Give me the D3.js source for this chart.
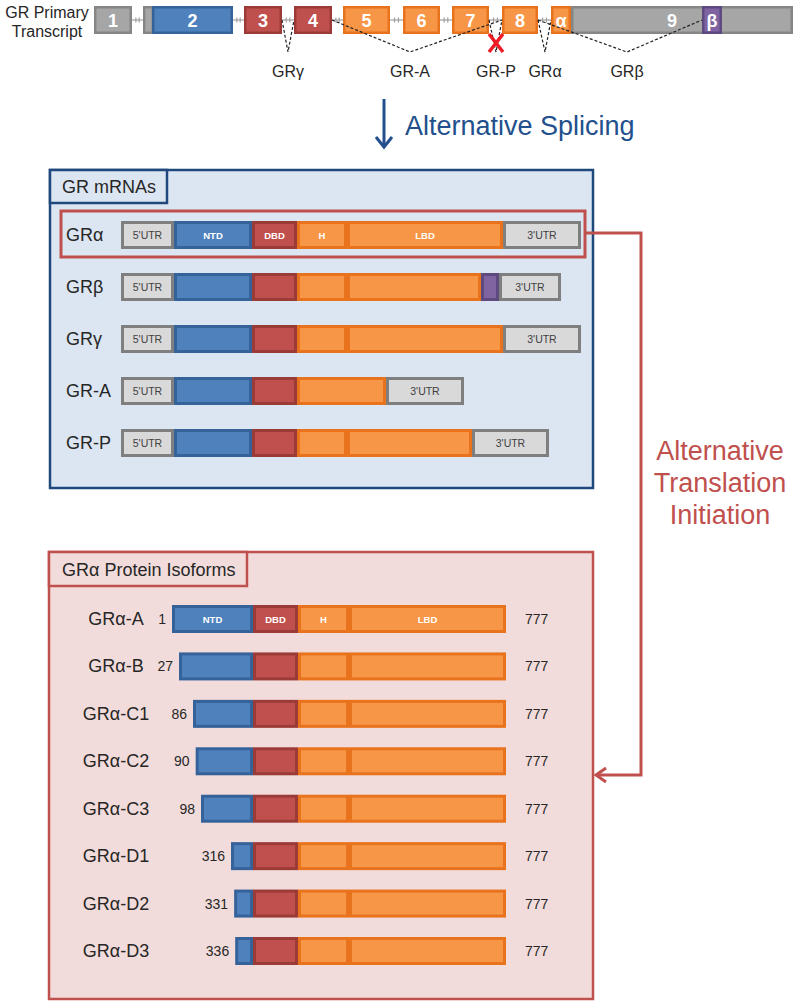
<!DOCTYPE html>
<html>
<head>
<meta charset="utf-8">
<script src="https://cdn.jsdelivr.net/npm/d3@7"></script>
<style>
  body { margin: 0; background: #fff; }
  text { font-family: "Liberation Sans", Arial, sans-serif; }
</style>
</head>
<body>
<div id="chart"></div>
<script>
// ---- data ----
// primary transcript, schematic units
const exonLabels = ['1', '', '2', '3', '4', '5', '6', '7', '8', 'α', '9', 'β'];
const exonStarts = [0, 49, 58, 150, 200, 249, 309, 358, 408, 457, 477, 608];
const exonEnds   = [38, 60, 139, 188, 238, 296, 346, 395, 444, 477, 699, 628];
const exonKinds  = ['utr', 'utr', 'ntd', 'dbd', 'dbd', 'lbd', 'lbd', 'lbd', 'lbd', 'lbd', 'utr', 'beta'];
const intronGaps = [[38, 49], [139, 150], [188, 200], [238, 249], [296, 309], [346, 358], [395, 408], [444, 457]];

// splice events
const spliceNames = ['GRγ', 'GR-A', 'GR-P', 'GRα', 'GRβ'];
const spliceFrom  = [188, 238, 395, 444, 444];
const spliceTo    = [200, 408, 408, 457, 608];
const spliceApex  = [194, 316, 402, 451, 533];

// mRNAs: segment kinds and lengths (schematic units)
const mrnaNames = ['GRα', 'GRβ', 'GRγ', 'GR-A', 'GR-P'];
const mrnaKinds = [
  ['5UTR', 'ntd', 'dbd', 'lbd', 'lbd', '3UTR'],
  ['5UTR', 'ntd', 'dbd', 'lbd', 'lbd', 'beta', '3UTR'],
  ['5UTR', 'ntd', 'dbd', 'lbd', 'lbd', '3UTR'],
  ['5UTR', 'ntd', 'dbd', 'lbd', '3UTR'],
  ['5UTR', 'ntd', 'dbd', 'lbd', 'lbd', '3UTR']
];
const mrnaLengths = [
  [53, 78, 45, 50, 156, 78],
  [53, 78, 45, 50, 134, 18, 62],
  [53, 78, 45, 50, 156, 78],
  [53, 78, 45, 89, 78],
  [53, 78, 45, 50, 125, 77]
];
const mrnaDomainText = ['', 'NTD', 'DBD', 'H', 'LBD', ''];

// protein isoforms (amino acid positions)
const isoformNames  = ['GRα-A', 'GRα-B', 'GRα-C1', 'GRα-C2', 'GRα-C3', 'GRα-D1', 'GRα-D2', 'GRα-D3'];
const isoformStarts = [1, 27, 86, 90, 98, 316, 331, 336];
const isoformEnd = 777;
const domainNames  = ['NTD', 'DBD', 'H', 'LBD'];
const domainStarts = [1, 421, 489, 527];
const domainKinds  = ['ntd', 'dbd', 'lbd', 'lbd'];

// ---- setup ----
const width = 800, height = 1007;
const svg = d3.select('#chart').append('svg')
  .attr('width', width).attr('height', height);

const fill = { utr: '#a6a6a6', '5UTR': '#d9d9d9', '3UTR': '#d9d9d9', ntd: '#4f81bd', dbd: '#c0504d', lbd: '#f79646', beta: '#8064a2' };
const stroke = { utr: '#868686', '5UTR': '#7f7f7f', '3UTR': '#7f7f7f', ntd: '#36629a', dbd: '#9b3b38', lbd: '#e8731c', beta: '#5f4a80' };
const textDark = '#262626';

// ---- primary transcript ----
const tx = d3.scaleLinear().domain([0, 699]).range([94, 793]);
const exTop = 6, exH = 28, exMid = exTop + exH / 2;

const tLabel = svg.append('text').attr('x', 47).attr('text-anchor', 'middle')
  .attr('font-size', 16).attr('fill', textDark);
tLabel.append('tspan').attr('x', 47).attr('y', 18).text('GR Primary');
tLabel.append('tspan').attr('x', 47).attr('y', 37).text('Transcript');

// introns
const introns = svg.append('g');
intronGaps.forEach(([a, b]) => {
  const x0 = tx(a), x1 = tx(b), w = x1 - x0;
  introns.append('line').attr('x1', x0).attr('x2', x1).attr('y1', exMid).attr('y2', exMid)
    .attr('stroke', '#a0a0a0').attr('stroke-width', 1.2);
  [0.35, 0.65].forEach(f => {
    introns.append('line').attr('x1', x0 + w * f).attr('x2', x0 + w * f)
      .attr('y1', exMid - 2.5).attr('y2', exMid + 2.5)
      .attr('stroke', '#a0a0a0').attr('stroke-width', 1.2);
  });
});

// exons
const exons = exonLabels.map((l, i) => ({ label: l, s: exonStarts[i], e: exonEnds[i], kind: exonKinds[i] }));
svg.append('g').selectAll('rect').data(exons).join('rect')
  .attr('x', d => tx(d.s) + 1.25).attr('y', exTop + 1.25)
  .attr('width', d => tx(d.e) - tx(d.s) - 2.5).attr('height', exH - 2.5)
  .attr('fill', d => fill[d.kind]).attr('stroke', d => stroke[d.kind]).attr('stroke-width', 2.5);

svg.append('g').selectAll('text').data(exons.filter(d => d.label)).join('text')
  .attr('x', d => d.label === '9' ? tx(608) - 30 : (tx(d.s) + tx(d.e)) / 2)
  .attr('y', exMid + 6.5).attr('text-anchor', 'middle')
  .attr('font-size', 18).attr('font-weight', 'bold').attr('fill', '#fff')
  .text(d => d.label);

// splice lines
const apexY = 52;
const splices = svg.append('g');
spliceNames.forEach((n, i) => {
  splices.append('path')
    .attr('d', `M${tx(spliceFrom[i])},${exMid}L${tx(spliceApex[i])},${apexY}L${tx(spliceTo[i])},${exMid}`)
    .attr('fill', 'none').attr('stroke', '#222').attr('stroke-width', 1.2).attr('stroke-dasharray', '3,2');
  splices.append('text').attr('x', tx(spliceApex[i])).attr('y', 77)
    .attr('text-anchor', 'middle').attr('font-size', 16).attr('fill', textDark).text(n);
});
// red X on GR-P
const xc = tx(spliceApex[2]), yc = 43;
svg.append('path')
  .attr('d', `M${xc - 7},${yc - 9}L${xc + 7},${yc + 9}M${xc + 7},${yc - 9}L${xc - 7},${yc + 9}`)
  .attr('stroke', '#ee1c25').attr('stroke-width', 3.5).attr('fill', 'none');

// alternative splicing arrow
const blue = '#23508c';
svg.append('line').attr('x1', 384).attr('x2', 384).attr('y1', 99).attr('y2', 146)
  .attr('stroke', blue).attr('stroke-width', 3);
svg.append('path').attr('d', 'M376,137L384,147L392,137')
  .attr('fill', 'none').attr('stroke', blue).attr('stroke-width', 3);
svg.append('text').attr('x', 405).attr('y', 135).attr('font-size', 27).attr('fill', blue)
  .text('Alternative Splicing');

// ---- mRNA panel ----
svg.append('rect').attr('x', 50).attr('y', 170).attr('width', 543).attr('height', 318)
  .attr('fill', '#dce6f2').attr('stroke', '#1f497d').attr('stroke-width', 2.5);
svg.append('rect').attr('x', 50).attr('y', 170).attr('width', 117).attr('height', 33)
  .attr('fill', '#dce6f2').attr('stroke', '#1f497d').attr('stroke-width', 2.5);
svg.append('text').attr('x', 62).attr('y', 193).attr('font-size', 18).attr('fill', textDark).text('GR mRNAs');

const mx = d3.scaleLinear().domain([0, 460]).range([121, 581]);
const my = d3.scalePoint().domain(mrnaNames).range([235, 443]);
const barH = 28;

// highlight box on GRα
svg.append('rect').attr('x', 61).attr('y', 211).attr('width', 524).attr('height', 46)
  .attr('fill', 'none').attr('stroke', '#c0504d').attr('stroke-width', 3);

mrnaNames.forEach((name, r) => {
  const y = my(name);
  svg.append('text').attr('x', 66).attr('y', y + 6).attr('font-size', 18).attr('fill', textDark).text(name);
  const ends = d3.cumsum(mrnaLengths[r]);
  const segs = mrnaKinds[r].map((k, i) => ({ kind: k, s: i ? ends[i - 1] : 0, e: ends[i], i }));
  const g = svg.append('g');
  g.selectAll('rect').data(segs).join('rect')
    .attr('x', d => mx(d.s) + 1.5).attr('y', y - barH / 2 + 1.5)
    .attr('width', d => mx(d.e) - mx(d.s) - 3).attr('height', barH - 3)
    .attr('fill', d => fill[d.kind]).attr('stroke', d => stroke[d.kind]).attr('stroke-width', 3);
  g.selectAll('text').data(segs.filter(d => d.kind.endsWith('UTR') || (r === 0 && mrnaDomainText[d.i])))
    .join('text')
    .attr('x', d => (mx(d.s) + mx(d.e)) / 2).attr('y', y + 3.5).attr('text-anchor', 'middle')
    .attr('font-size', d => d.kind.endsWith('UTR') ? 10.5 : 9.5)
    .attr('font-weight', d => d.kind.endsWith('UTR') ? 'normal' : 'bold')
    .attr('fill', d => d.kind.endsWith('UTR') ? '#404040' : '#fff')
    .text(d => d.kind === '5UTR' ? "5'UTR" : d.kind === '3UTR' ? "3'UTR" : mrnaDomainText[d.i]);
});

// ---- translation initiation arrow ----
const red = '#c0504d';
svg.append('path').attr('d', 'M585,233L641,233L641,775L597,775')
  .attr('fill', 'none').attr('stroke', red).attr('stroke-width', 3);
svg.append('path').attr('d', 'M606,768L596,775L606,782')
  .attr('fill', 'none').attr('stroke', red).attr('stroke-width', 3);
const tt = svg.append('text').attr('text-anchor', 'middle').attr('font-size', 27).attr('fill', red);
['Alternative', 'Translation', 'Initiation'].forEach((t, i) => {
  tt.append('tspan').attr('x', 720).attr('y', 460 + i * 32).text(t);
});

// ---- protein panel ----
svg.append('rect').attr('x', 49).attr('y', 552).attr('width', 544).attr('height', 447)
  .attr('fill', '#f2dcdb').attr('stroke', red).attr('stroke-width', 2.5);
svg.append('rect').attr('x', 49).attr('y', 552).attr('width', 198).attr('height', 34)
  .attr('fill', '#f2dcdb').attr('stroke', red).attr('stroke-width', 2.5);
svg.append('text').attr('x', 62).attr('y', 576).attr('font-size', 18).attr('fill', textDark).text('GRα Protein Isoforms');

// schematic (not to scale) amino acid axis
const px = d3.scaleLinear()
  .domain([1, 27, 86, 98, 316, 421, 489, 527, 777])
  .range([172, 179, 193, 201, 231, 253, 298, 349, 506]);
const py = d3.scalePoint().domain(isoformNames).range([619, 951]);

isoformNames.forEach((name, r) => {
  const y = py(name);
  const start = isoformStarts[r];
  svg.append('text').attr('x', 116).attr('y', y + 6).attr('text-anchor', 'middle')
    .attr('font-size', 18).attr('fill', textDark).text(name);
  svg.append('text').attr('x', px(start) - 6).attr('y', y + 5).attr('text-anchor', 'end')
    .attr('font-size', 14).attr('fill', textDark).text(start);
  svg.append('text').attr('x', 525).attr('y', y + 5)
    .attr('font-size', 14).attr('fill', textDark).text(isoformEnd);
  const segs = domainNames.map((d, i) => ({
    name: d, kind: domainKinds[i],
    s: Math.max(start, domainStarts[i]),
    e: i < domainNames.length - 1 ? domainStarts[i + 1] : isoformEnd
  }));
  const g = svg.append('g');
  g.selectAll('rect').data(segs).join('rect')
    .attr('x', d => px(d.s) + 1.5).attr('y', y - barH / 2 + 1.5)
    .attr('width', d => px(d.e) - px(d.s) - 3).attr('height', barH - 3)
    .attr('fill', d => fill[d.kind]).attr('stroke', d => stroke[d.kind]).attr('stroke-width', 3);
  if (r === 0) {
    g.selectAll('text').data(segs).join('text')
      .attr('x', d => (px(d.s) + px(d.e)) / 2).attr('y', y + 3.5).attr('text-anchor', 'middle')
      .attr('font-size', 9.5).attr('font-weight', 'bold').attr('fill', '#fff')
      .text(d => d.name);
  }
});
</script>
</body>
</html>
